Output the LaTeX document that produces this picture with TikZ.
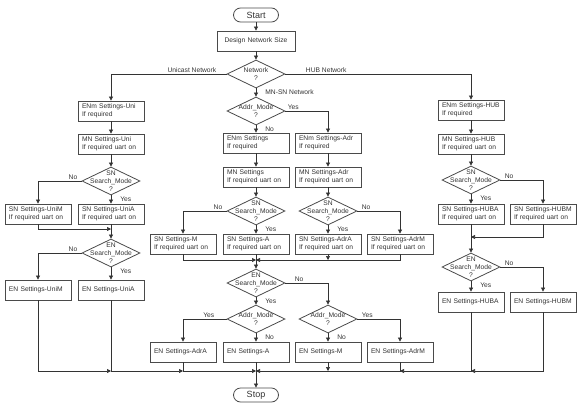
\documentclass[tikz,border=0pt]{standalone}
\usepackage{fontspec}
\setmainfont{Liberation Sans}
\usetikzlibrary{arrows.meta,shapes.geometric}
\definecolor{ink}{HTML}{333333}
\definecolor{frame}{HTML}{4A4A4A}
\newcommand{\chartfont}{\fontsize{6.7}{8}\selectfont}

\begin{document}
\begin{tikzpicture}[x=1pt, y=-1pt,
  setting/.style={draw=frame, text=ink, line width=0.8pt, fill=white,
    minimum width=66pt, minimum height=20pt, text width=58pt,
    inner xsep=4pt, inner ysep=1pt, align=left, font=\chartfont},
  wide/.style={setting, minimum width=78pt, text width=70pt, align=center},
  term/.style={draw=frame, text=ink, line width=0.8pt, rounded corners=7pt,
    minimum width=45pt, minimum height=14pt, inner sep=0pt,
    font=\fontsize{9}{10}\selectfont},
  decide/.style={diamond, draw=frame, line width=0.8pt, minimum width=58pt,
    minimum height=28pt, inner sep=0pt},
  ask/.style={text=ink, font=\chartfont, align=center, inner sep=0pt},
  flow/.style={draw=ink, line width=0.7pt, -{Triangle[length=4pt, width=4pt]}},
  edge/.style={text=ink, font=\chartfont, inner sep=1pt},
  tagdown/.style={edge, anchor=north west, pos=0, xshift=8pt},
  tagleft/.style={edge, anchor=south east, pos=0, xshift=-3pt},
  tagright/.style={edge, anchor=south west, pos=0, xshift=3pt},
]
\useasboundingbox (0,0) rectangle (580,404);

\node[term] (start) at (256,15) {Start};
\node[wide] (design) at (256,41) {Design Network Size};
\node[decide, label={[ask]center:Network\\?}] (net) at (256,74) {};
\node[decide, label={[ask]center:Addr\_Mode\\?}] (addr) at (256,111) {};

% Unicast network
\node[setting] (enmUni) at (111,111) {ENm Settings-Uni\\If required};
\node[setting] (mnUni)  at (111,144) {MN Settings-Uni\\If required uart on};
\node[decide, label={[ask]center:SN\\Search\_Mode\\?}] (snUni) at (111,181) {};
\node[setting] (snUniM) at (38,214)  {SN Settings-UniM\\If required uart on};
\node[setting] (snUniA) at (111,214) {SN Settings-UniA\\If required uart on};
\coordinate (jUni) at (111,229);
\node[decide, label={[ask]center:EN\\Search\_Mode\\?}] (enUni) at (111,253) {};
\node[setting] (enUniM) at (38,290)  {EN Settings-UniM};
\node[setting] (enUniA) at (111,290) {EN Settings-UniA};

% MN-SN network
\node[setting] (enmS)   at (256,143) {ENm Settings\\If required};
\node[setting] (enmAdr) at (328,143) {ENm Settings-Adr\\If required};
\node[setting] (mnS)    at (256,177) {MN Settings\\If required uart on};
\node[setting] (mnAdr)  at (328,177) {MN Settings-Adr\\If required uart on};
\node[decide, label={[ask]center:SN\\Search\_Mode\\?}] (snS)   at (256,211) {};
\node[decide, label={[ask]center:SN\\Search\_Mode\\?}] (snAdr) at (328,211) {};
\node[setting] (snM)    at (183,244) {SN Settings-M\\If required uart on};
\node[setting] (snA)    at (256,244) {SN Settings-A\\If required uart on};
\node[setting] (snAdrA) at (328,244) {SN Settings-AdrA\\If required uart on};
\node[setting] (snAdrM) at (400,244) {SN Settings-AdrM\\If required uart on};
\coordinate (jMid) at (256,260);
\node[decide, label={[ask]center:EN\\Search\_Mode\\?}] (enMid) at (256,283) {};
\node[decide, label={[ask]center:Addr\_Mode\\?}] (addrA) at (256,319) {};
\node[decide, label={[ask]center:Addr\_Mode\\?}] (addrM) at (328,319) {};
\node[setting] (enAdrA) at (183,352) {EN Settings-AdrA};
\node[setting] (enA)    at (256,352) {EN Settings-A};
\node[setting] (enM)    at (328,352) {EN Settings-M};
\node[setting] (enAdrM) at (400,352) {EN Settings-AdrM};

% HUB network
\node[setting] (enmHub) at (471,110) {ENm Settings-HUB\\If required};
\node[setting] (mnHub)  at (471,144) {MN Settings-HUB\\If required uart on};
\node[decide, label={[ask]center:SN\\Search\_Mode\\?}] (snHub) at (471,180) {};
\node[setting] (snHubA) at (471,214) {SN Settings-HUBA\\If required uart on};
\node[setting] (snHubM) at (543,214) {SN Settings-HUBM\\If required uart on};
\coordinate (jHub) at (471,237);
\node[decide, label={[ask]center:EN\\Search\_Mode\\?}] (enHub) at (471,267) {};
\node[setting] (enHubA) at (471,302) {EN Settings-HUBA};
\node[setting] (enHubM) at (543,302) {EN Settings-HUBM};

\coordinate (jEnd) at (256,371);
\node[term] (stop) at (256,395) {Stop};

\draw[flow] (start) -- (design);
\draw[flow] (design) -- (net);
\draw[flow] (net.west) -| node[edge, above, pos=0.15] {Unicast Network} (enmUni.north);
\draw[flow] (net.east) -| node[edge, above, pos=0.11] {HUB Network} (enmHub.north);
\draw[flow] (net) -- node[tagdown] {MN-SN Network} (addr);
\draw[flow] (addr.east) -| node[tagright, xshift=-2pt] {Yes} (enmAdr.north);
\draw[flow] (addr) -- node[tagdown] {No} (enmS);

\foreach \a/\b in {enmUni/mnUni, mnUni/snUni, enmS/mnS, mnS/snS,
                   enmAdr/mnAdr, mnAdr/snAdr, enmHub/mnHub, mnHub/snHub}
  \draw[flow] (\a) -- (\b);

% SN search mode
\draw[flow] (snUni.west) -| node[tagleft] {No} (snUniM.north);
\draw[flow] (snUni) -- node[tagdown] {Yes} (snUniA);
\draw[flow] (snS.west) -| node[tagleft] {No} (snM.north);
\draw[flow] (snS) -- node[tagdown] {Yes} (snA);
\draw[flow] (snAdr.east) -| node[tagright] {No} (snAdrM.north);
\draw[flow] (snAdr) -- node[tagdown] {Yes} (snAdrA);
\draw[flow] (snHub.east) -| node[tagright] {No} (snHubM.north);
\draw[flow] (snHub) -- node[tagdown] {Yes} (snHubA);

\draw[flow] (snUniM.south) |- (jUni);
\draw[flow] (snUniA) -- (enUni);
\draw[flow] (snM.south) |- (jMid);
\draw[flow] (snAdrM.south) |- (jMid);
\draw[flow] (snAdrA.south) -- (snAdrA.south |- jMid);
\draw[flow] (snA) -- (enMid);
\draw[flow] (snHubM.south) |- (jHub);
\draw[flow] (snHubA) -- (enHub);

% EN search mode
\draw[flow] (enUni.west) -| node[tagleft] {No} (enUniM.north);
\draw[flow] (enUni) -- node[tagdown] {Yes} (enUniA);
\draw[flow] (enMid.east) -| node[tagright, xshift=5pt] {No} (addrM.north);
\draw[flow] (enMid) -- node[tagdown] {Yes} (addrA);
\draw[flow] (enHub.east) -| node[tagright] {No} (enHubM.north);
\draw[flow] (enHub) -- node[tagdown] {Yes} (enHubA);
\draw[flow] (addrA.west) -| node[tagleft, xshift=-8pt] {Yes} (enAdrA.north);
\draw[flow] (addrA) -- node[tagdown] {No} (enA);
\draw[flow] (addrM.east) -| node[tagright] {Yes} (enAdrM.north);
\draw[flow] (addrM) -- node[tagdown] {No} (enM);

% everything runs together into Stop
\draw[flow] (enUniM.south) |- (enUniA.south |- jEnd);
\draw[flow] (enUniA.south) |- (enAdrA.south |- jEnd);
\draw[flow] (enAdrA.south) |- (jEnd);
\draw[flow] (enM.south) -- (enM.south |- jEnd);
\draw[flow] (enAdrM.south) |- (jEnd);
\draw[flow] (enHubA.south) |- (enAdrM.south |- jEnd);
\draw[flow] (enHubM.south) |- (enHubA.south |- jEnd);
\draw[flow] (enA) -- (stop);
\end{tikzpicture}
\end{document}
